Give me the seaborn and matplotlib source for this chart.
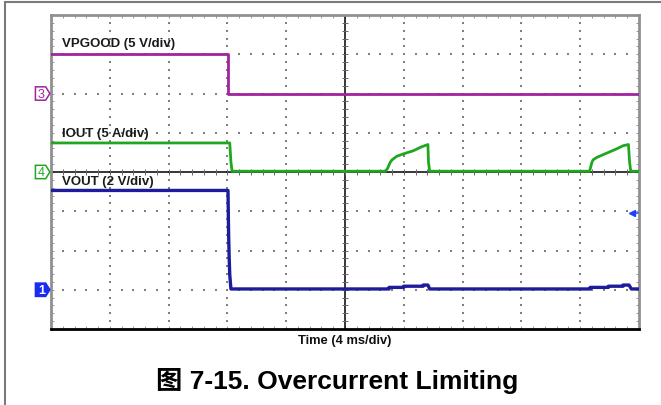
import numpy as np
import pandas as pd
import matplotlib.pyplot as plt
from matplotlib.patches import Polygon, Rectangle
import seaborn as sns

# TRACE DATA (x in time divisions, y in vertical divisions)
vpgood_x = [0.0, 3.01, 3.01, 10.0]
vpgood_y = [3.0, 3.0, 2.0, 2.0]

iout_x = [0.0, 3.04, 3.06, 3.08, 5.68, 5.72, 5.77, 5.80, 5.88, 5.99, 6.16, 6.30, 6.41,
          6.42, 6.44, 9.16, 9.20, 9.22, 9.28, 9.45, 9.62, 9.73, 9.82, 9.84, 9.86, 10.0]
iout_y = [0.74, 0.74, 0.25, 0.02, 0.02, 0.08, 0.25, 0.31, 0.40, 0.46, 0.54, 0.64, 0.70,
          0.25, 0.02, 0.02, 0.25, 0.31, 0.37, 0.48, 0.59, 0.67, 0.70, 0.25, 0.02, 0.02]

vout_x = [0.0, 3.01, 3.02, 3.03, 3.04, 3.06, 5.75, 5.75, 6.00, 6.00, 6.33, 6.33, 6.41,
          6.44, 9.17, 9.17, 9.48, 9.48, 9.73, 9.73, 9.83, 9.87, 10.0]
vout_y = [-0.47, -0.47, -1.54, -2.17, -2.62, -2.98, -2.98, -2.94, -2.94, -2.91, -2.91,
          -2.88, -2.88, -2.98, -2.98, -2.94, -2.94, -2.91, -2.91, -2.88, -2.88, -2.98, -2.98]

# channel labels, reference levels and colours
trace_labels = ["VPGOOD (5 V/div)", "IOUT (5 A/div)", "VOUT (2 V/div)"]
label_y = [3.29, 0.99, -0.23]
channel_ids = ["3", "4", "1"]
channel_levels = [2.0, 0.0, -3.0]
trigger_level = -1.04
colors = ["#a1239f", "#1fa81f", "#1c1c9c"]

sns.set_theme(style="white")
plt.rcParams['font.family'] = ['Liberation Sans', 'Noto Sans CJK SC', 'DejaVu Sans']

fig = plt.figure(figsize=(6.61, 4.06), dpi=100)
ax = fig.add_axes([51 / 661, 1 - 330 / 406, 588 / 661, 314 / 406])

# dotted graticule
grid_pts = []
for gx in [1, 2, 3, 4, 6, 7, 8, 9]:
    for gy in np.arange(-4, 4.01, 0.2):
        grid_pts.append((gx, gy))
for gy in [-3, -2, -1, 1, 2, 3]:
    for gx in np.arange(0, 10.01, 0.2):
        grid_pts.append((gx, gy))
grid_pts = np.array(grid_pts)
ax.scatter(grid_pts[:, 0], grid_pts[:, 1], s=1.2, marker="s", color="#808080", linewidths=0, zorder=1)

# centre cross with small ticks
ax.axvline(5, color="black", lw=1.1, zorder=2)
ax.axhline(0, color="black", lw=1.1, zorder=2)
ax.plot(np.full(41, 5.0), np.arange(-4, 4.01, 0.2), ls="none", marker="_", ms=4, mew=0.7, color="#666666", zorder=2)
ax.plot(np.arange(0, 10.01, 0.2), np.zeros(51), ls="none", marker="|", ms=4, mew=0.7, color="#666666", zorder=2)

# traces
traces = [(vpgood_x, vpgood_y, 2.0), (iout_x, iout_y, 2.0), (vout_x, vout_y, 2.4)]
for (tx, ty, lw), col in zip(traces, colors):
    df = pd.DataFrame({"t": tx, "v": ty})
    sns.lineplot(data=df, x="t", y="v", sort=False, estimator=None, color=col, lw=lw, ax=ax, zorder=3)

for lab, ly in zip(trace_labels, label_y):
    ax.text(0.19, ly, lab, fontsize=9.5, fontweight="bold", color="#1a1a1a", va="center", ha="left", zorder=4)

# channel markers on the left edge
tr = ax.get_yaxis_transform()
for cid, lvl, col in zip(channel_ids, channel_levels, colors):
    h = 0.17
    pts = [(-0.0265, lvl - h), (-0.009, lvl - h), (-0.002, lvl), (-0.009, lvl + h), (-0.0265, lvl + h)]
    filled = cid == "1"
    ax.add_patch(Polygon(pts, closed=True, transform=tr, clip_on=False,
                         facecolor="#1a2cf0" if filled else "white",
                         edgecolor="#1a2cf0" if filled else col, lw=1.1, zorder=5))
    ax.text(-0.0165, lvl, cid, transform=tr, fontsize=9, ha="center", va="center",
            color="white" if filled else col, fontweight="bold" if filled else "normal",
            clip_on=False, zorder=6)

# trigger level arrow
ax.plot([9.9, 9.98], [trigger_level, trigger_level], color="#3050ff", lw=1.2, zorder=4)
ax.plot([9.88], [trigger_level], marker="<", ms=5, color="#2040ff", ls="none", zorder=4)

ax.set_xlim(0, 10)
ax.set_ylim(-4, 4)
ax.set_xlabel("")
ax.set_ylabel("")
ax.set_xticks(np.arange(0, 10.01, 0.2))
ax.set_yticks(np.arange(-4, 4.01, 0.2))
ax.tick_params(direction="in", length=2.2, width=0.6, color="#888888", labelbottom=False,
               labelleft=False, top=True, right=True, bottom=True, left=True)
for side in ["left", "top", "right"]:
    ax.spines[side].set_color("#909090")
    ax.spines[side].set_linewidth(2)
ax.spines["bottom"].set_color("black")
ax.spines["bottom"].set_linewidth(2)

# outer frame
fig.patches.append(Rectangle((5 / 661, -0.05), 1.1, 1.05 - 3 / 406, transform=fig.transFigure,
                             fill=False, edgecolor="#7a7a7a", lw=1.5))

fig.text(345 / 661, 1 - 341 / 406, "Time (4 ms/div)", fontsize=9.3, fontweight="bold",
         ha="center", va="center", color="#111111")
fig.text(337.5 / 661, 1 - 381 / 406, "图 7-15. Overcurrent Limiting", fontsize=19,
         fontweight="bold", ha="center", va="center", color="black")

fig.savefig("out.png", dpi=100)
